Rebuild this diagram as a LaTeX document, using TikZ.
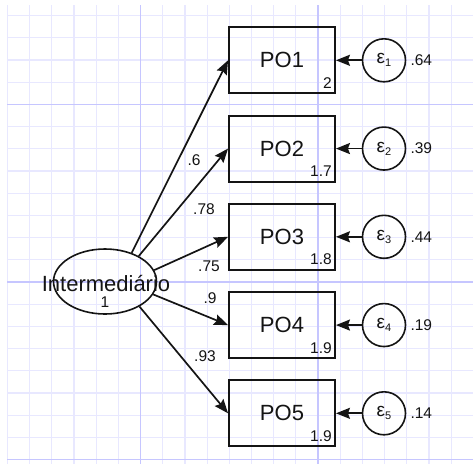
\documentclass[tikz,border=0pt]{standalone}
\usepackage{fontspec}
\setmainfont{Liberation Sans}
\usetikzlibrary{arrows.meta,shapes.geometric}
\definecolor{gridminor}{RGB}{232,232,255}
\definecolor{gridmajor}{RGB}{198,198,255}
\definecolor{ink}{RGB}{20,20,20}
\begin{document}
\begin{tikzpicture}[x=1pt,y=-1pt,
  obs/.style={draw=ink, line width=1.9pt, minimum width=106pt, minimum height=66pt, inner sep=0pt, text=ink, font=\fontsize{22}{26}\selectfont},
  lat/.style={ellipse, draw=ink, line width=1.6pt, minimum width=103pt, minimum height=65pt, inner sep=0pt},
  err/.style={circle, draw=ink, line width=1.6pt, minimum size=43pt, inner sep=0pt, text=ink},
  big/.style={inner sep=0pt, text=ink, font=\fontsize{22}{26}\selectfont},
  small/.style={inner sep=0pt, text=ink, font=\fontsize{15.5}{18}\selectfont},
  arr/.style={draw=ink, line width=1.7pt, -{Stealth[length=14pt,width=11pt,inset=2pt]}}
]
\useasboundingbox (0,0) rectangle (473,464);
\fill[white] (0,0) rectangle (473,464);
% grid
\begin{scope}
\clip (7,5) rectangle (473,464);
\foreach \k in {0,...,21} {
  \pgfmathsetmacro\xx{7.5+22.18*\k}
  \draw[gridminor, line width=1.2pt] (\xx,5) -- (\xx,464);
}
\foreach \k in {0,...,21} {
  \pgfmathsetmacro\yy{15.5+22.2*\k}
  \draw[gridminor, line width=1.2pt] (7,\yy) -- (473,\yy);
}
\foreach \k in {6,14} {
  \pgfmathsetmacro\xx{7.5+22.18*\k}
  \draw[gridmajor, line width=1.2pt] (\xx,5) -- (\xx,464);
}
\foreach \k in {4,12,20} {
  \pgfmathsetmacro\yy{15.5+22.2*\k}
  \draw[gridmajor, line width=1.2pt] (7,\yy) -- (473,\yy);
}
\end{scope}
% latent
\node[lat] (ell) at (105,281.5) {};
\node[big] (ellt) at (106,283) {Intermediário};
\node[small, anchor=base] (ellv) at (105,307) {1};
% observed
\foreach \i/\v/\a [count=\n from 0] in {1/2/47,2/1.7/37,3/1.8/13,4/1.9/-15,5/1.9/-36} {
  \pgfmathsetmacro\yy{60.3+88.25*\n}
  \node[obs] (po\i) at (282,\yy) {PO\i};
  \node[small, anchor=base east, xshift=-4pt, yshift=6pt] (pv\i) at (po\i.south east) {\v};
  \node[err] (e\i) at (384,\yy) {\fontsize{19}{20}\selectfont ε\raisebox{-0.3ex}{\fontsize{11}{12}\selectfont\i}};
  \draw[arr] (e\i) -- (po\i.east);
  \draw[arr] (ell.\a) -- (po\i.west);
}
% error variances
\node[small, anchor=west, xshift=4pt] (ev1) at (e1.east) {.64};
\node[small, anchor=west, xshift=4pt] (ev2) at (e2.east) {.39};
\node[small, anchor=west, xshift=4pt] (ev3) at (e3.east) {.44};
\node[small, anchor=west, xshift=4pt] (ev4) at (e4.east) {.19};
\node[small, anchor=west, xshift=4pt] (ev5) at (e5.east) {.14};
% loadings
\node[small] (l1) at (194,160.5) {.6};
\node[small] (l2) at (204,209) {.78};
\node[small] (l3) at (209,266.5) {.75};
\node[small] (l4) at (210,298.5) {.9};
\node[small] (l5) at (205,356.5) {.93};
\end{tikzpicture}
\end{document}
